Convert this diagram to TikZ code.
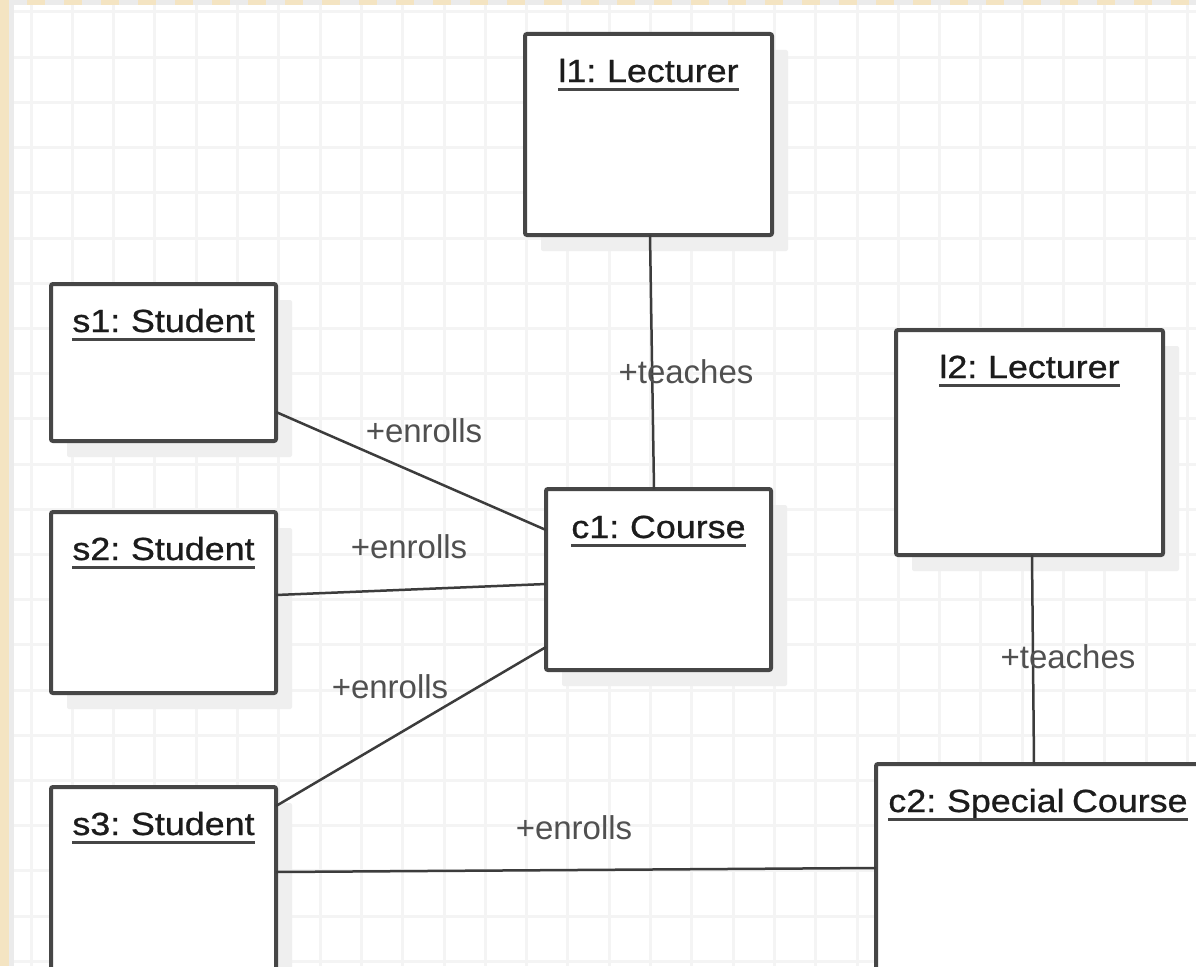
\documentclass[tikz,border=0pt]{standalone}
\usepackage{fontspec}
\setmainfont{Liberation Sans}
\newfontfamily\titlefont[FakeStretch=1.12,FakeBold=0.8,WordSpace=0.75]{Liberation Sans}
\usetikzlibrary{shadows}
\definecolor{beige}{HTML}{F4E4C2}
\definecolor{edgegrey}{HTML}{EBEBEB}
\definecolor{gridc}{HTML}{F4F4F4}
\definecolor{boxline}{HTML}{464646}
\definecolor{conn}{HTML}{3C3C3C}
\definecolor{labc}{HTML}{505050}
\definecolor{titc}{HTML}{1C1C1C}
\definecolor{shadc}{HTML}{EFEFEF}
\tikzset{
  objbox/.style={draw=boxline, line width=4pt, fill=white, rounded corners=2pt,
    inner sep=0pt, outer sep=0pt, anchor=north west,
    drop shadow={shadow xshift=16pt, shadow yshift=-16pt, fill=shadc, opacity=1}},
  objtitle/.style={inner sep=0pt, anchor=base, text=titc,
    font=\titlefont\fontsize{32}{38}\selectfont},
  uline/.style={draw=boxline, line width=3pt},
  assoc/.style={draw=conn, line width=2.5pt},
  alabel/.style={inner sep=0pt, anchor=base, text=labc,
    font=\fontsize{33}{40}\selectfont},
}
\begin{document}
\begin{tikzpicture}[x=1pt,y=-1pt]
\useasboundingbox (0,0) rectangle (1196,966);
\clip (0,0) rectangle (1196,966);
% background
\fill[white] (0,0) rectangle (1196,966);
\foreach \i in {0,...,28} {
  \fill[gridc] ({31+41.3*\i-1.5},0) rectangle ({31+41.3*\i+1.5},966);
}
\foreach \j in {0,...,21} {
  \fill[gridc] (0,{12+45.2*\j-1.5}) rectangle (1196,{12+45.2*\j+1.5});
}
\fill[edgegrey] (0,0) rectangle (1196,5);
\foreach \i in {0,...,32} {
  \fill[beige] ({27+36.9*\i},0) rectangle ({45+36.9*\i},5);
}
\fill[edgegrey] (9,0) rectangle (14,966);
\fill[beige] (0,0) rectangle (9,966);

% boxes
\node[objbox, minimum width=247pt, minimum height=201pt] (l1) at (525,34) {};
\node[objbox, minimum width=225pt, minimum height=157pt] (s1) at (51,284) {};
\node[objbox, minimum width=225pt, minimum height=181pt] (s2) at (51,512) {};
\node[objbox, minimum width=225pt, minimum height=193pt] (s3) at (51,787) {};
\node[objbox, minimum width=225pt, minimum height=181pt] (c1) at (546,489) {};
\node[objbox, minimum width=267pt, minimum height=225pt] (l2) at (896,330) {};
\node[objbox, minimum width=324pt, minimum height=260pt] (c2) at (876,764) {};

% titles
\node[objtitle] (l1t) at (648.5,82) {l1: Lecturer};
\node[objtitle] (s1t) at (163.5,332) {s1: Student};
\node[objtitle] (s2t) at (163.5,560) {s2: Student};
\node[objtitle] (s3t) at (163.5,835) {s3: Student};
\node[objtitle] (c1t) at (658.5,538) {c1: Course};
\node[objtitle] (l2t) at (1029.5,378) {l2: Lecturer};
\node[objtitle] (c2t) at (1038,812) {c2: Special Course};
\foreach \t in {l1t,s1t,s2t,s3t,c1t,l2t,c2t} {
  \draw[uline] ([yshift=-7pt]\t.base west) -- ([yshift=-7pt]\t.base east);
}

% connectors
\draw[assoc] ([xshift=1.5pt]l1.south) -- ([xshift=-4.5pt]c1.north);
\draw[assoc] ([xshift=2.5pt]l2.south) -- ([xshift=-4pt]c2.north);
\draw[assoc] ([yshift=-49.5pt]s1.east) -- ([yshift=49.5pt]c1.west);
\draw[assoc] ([yshift=7.5pt]s2.east) -- ([yshift=-4.5pt]c1.west);
\draw[assoc] ([yshift=77.5pt]s3.east) -- ([yshift=-67.5pt]c1.west);
\draw[assoc] ([yshift=11.5pt]s3.east) -- ([yshift=26pt]c2.west);

% labels
\node[alabel] (t1) at (686,383) {+teaches};
\node[alabel] (t2) at (1068,668) {+teaches};
\node[alabel] (e1) at (424,442) {+enrolls};
\node[alabel] (e2) at (409,558) {+enrolls};
\node[alabel] (e3) at (390,698) {+enrolls};
\node[alabel] (e4) at (574,839) {+enrolls};
\end{tikzpicture}
\end{document}
